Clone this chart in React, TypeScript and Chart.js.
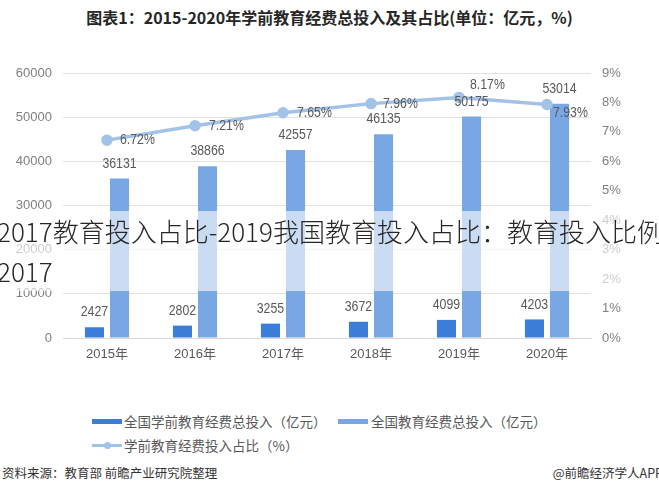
import React, { useEffect, useRef } from "react";
import { Chart, registerables } from "chart.js";

Chart.register(...registerables);

const categories = ["2015年", "2016年", "2017年", "2018年", "2019年", "2020年"];
const preschoolInvestment = [2427, 2802, 3255, 3672, 4099, 4203];
const totalInvestment = [36131, 38866, 42557, 46135, 50175, 53014];
const preschoolShare = [6.72, 7.21, 7.65, 7.96, 8.17, 7.93];
const leftAxis = { min: 0, max: 60000, step: 10000 };
const rightAxis = { min: 0, max: 9, step: 1 };

const seriesNames = [
  "全国学前教育经费总投入（亿元）",
  "全国教育经费总投入（亿元）",
  "学前教育经费投入占比（%）",
];
const titleText = "图表1：2015-2020年学前教育经费总投入及其占比(单位：亿元，%)";
const overlayLines = ["2017教育投入占比-2019我国教育投入占比：教育投入比例", "2017"];
const sourceText = "资料来源：教育部 前瞻产业研究院整理";
const brandText = "@前瞻经济学人APP";

// label placement for the percentage labels (dx, dy from point)
const shareLabelOffsets = [
  [13, 0],
  [14, 0],
  [14, 0],
  [12, 0],
  [11, -12.5],
  [6, 8.5],
];

const COLOR_PRE = "#3b7dd8";
const COLOR_TOTAL = "#78a7e4";
const COLOR_LINE = "#a3c2e7";
const LABEL_COLOR = "#595959";

const valueLabels = {
  id: "valueLabels",
  afterDatasetsDraw(chart: any) {
    const ctx = chart.ctx;
    chart.data.datasets.forEach((ds: any, di: number) => {
      const meta = chart.getDatasetMeta(di);
      meta.data.forEach((el: any, i: number) => {
        const v = ds.data[i];
        let x: number, y: number, align: CanvasTextAlign, text: string;
        if (ds.type === "line") {
          text = v.toFixed(2) + "%";
          x = el.x + shareLabelOffsets[i][0];
          y = el.y + shareLabelOffsets[i][1];
          align = "left";
        } else {
          text = String(v);
          x = el.x;
          y = el.y - 15;
          align = "center";
        }
        ctx.save();
        ctx.translate(x, y);
        ctx.scale(0.82, 1);
        ctx.font = "15px 'Liberation Sans', Arial, sans-serif";
        ctx.fillStyle = LABEL_COLOR;
        ctx.textAlign = align;
        ctx.textBaseline = "middle";
        ctx.fillText(text, 0, 0);
        ctx.restore();
      });
    });
  },
};

function ChartCanvas() {
  const ref = useRef<HTMLCanvasElement | null>(null);
  useEffect(() => {
    if (!ref.current) return;
    const chart = new Chart(ref.current, {
      type: "bar",
      data: {
        labels: categories,
        datasets: [
          {
            type: "line",
            label: seriesNames[2],
            data: preschoolShare,
            yAxisID: "y1",
            borderColor: COLOR_LINE,
            backgroundColor: COLOR_LINE,
            borderWidth: 3.5,
            pointRadius: 4,
            pointBackgroundColor: COLOR_LINE,
            pointBorderColor: COLOR_LINE,
            tension: 0,
            order: 0,
          } as any,
          {
            type: "bar",
            label: seriesNames[0],
            data: preschoolInvestment,
            yAxisID: "y",
            backgroundColor: COLOR_PRE,
            categoryPercentage: 0.57,
            barPercentage: 0.76,
            order: 1,
          },
          {
            type: "bar",
            label: seriesNames[1],
            data: totalInvestment,
            yAxisID: "y",
            backgroundColor: COLOR_TOTAL,
            categoryPercentage: 0.57,
            barPercentage: 0.76,
            order: 1,
          },
        ],
      },
      options: {
        responsive: false,
        animation: false,
        devicePixelRatio: 1,
        layout: { padding: { top: 73, left: 0, right: 0, bottom: 0 } },
        plugins: {
          legend: { display: false },
          tooltip: { enabled: false },
          title: { display: false },
        },
        scales: {
          x: {
            grid: { display: false, drawTicks: false },
            border: { display: true, color: "#d9d9d9" },
            ticks: {
              color: LABEL_COLOR,
              padding: 9,
              font: { size: 13, family: "'Liberation Sans', 'Noto Sans CJK SC', sans-serif" },
            },
            afterFit: (s: any) => {
              s.height = 32;
            },
          },
          y: {
            position: "left",
            min: leftAxis.min,
            max: leftAxis.max,
            grid: { color: "#e2e2e2", drawTicks: false },
            border: { display: false },
            ticks: {
              stepSize: leftAxis.step,
              color: "#7f7f7f",
              padding: 11,
              font: { size: 13, family: "'Liberation Sans', sans-serif" },
              callback: (v: any) => String(v),
            },
            afterFit: (s: any) => {
              s.width = 63;
            },
          },
          y1: {
            position: "right",
            min: rightAxis.min,
            max: rightAxis.max,
            grid: { display: false, drawTicks: false },
            border: { display: false },
            ticks: {
              stepSize: rightAxis.step,
              color: "#7f7f7f",
              padding: 11,
              font: { size: 13, family: "'Liberation Sans', sans-serif" },
              callback: (v: any) => v + "%",
            },
            afterFit: (s: any) => {
              s.width = 68;
            },
          },
        },
      },
      plugins: [valueLabels],
    });
    return () => chart.destroy();
  }, []);
  return (
    <canvas
      ref={ref}
      width={659}
      height={370}
      style={{ position: "absolute", left: 0, top: 0, width: 659, height: 370 }}
    />
  );
}

const legendText: React.CSSProperties = {
  position: "absolute",
  fontSize: 13.5,
  color: "#595959",
  whiteSpace: "nowrap",
  lineHeight: "18px",
  fontFamily: "'Noto Sans CJK SC', sans-serif",
};

export default function App() {
  return (
    <div
      style={{
        position: "fixed",
        left: 0,
        top: 0,
        width: 659,
        height: 490,
        background: "#ffffff",
        overflow: "hidden",
        fontFamily: "'Noto Sans CJK SC', sans-serif",
      }}
    >
      <div
        style={{
          position: "absolute",
          left: 0,
          top: 6,
          width: 659,
          textAlign: "center",
          fontSize: 16,
          fontWeight: 700,
          color: "#262626",
          lineHeight: "22px",
          whiteSpace: "nowrap",
        }}
      >
        {titleText}
      </div>
      <ChartCanvas />
      <div
        style={{
          position: "absolute",
          left: 0,
          top: 211,
          width: 659,
          height: 80,
          background: "rgba(255,255,255,0.6)",
          overflow: "hidden",
        }}
      >
        {overlayLines.map((t, i) => (
          <div
            key={i}
            style={{
              position: "absolute",
              left: -3,
              top: i * 40,
              fontSize: 26,
              fontWeight: 300,
              lineHeight: "40px",
              color: "#262626",
              whiteSpace: "nowrap",
            }}
          >
            {t}
          </div>
        ))}
      </div>
      {/* legend */}
      <div style={{ position: "absolute", left: 92, top: 418.5, width: 30, height: 5, background: COLOR_PRE }} />
      <div style={{ ...legendText, left: 124, top: 412 }}>{seriesNames[0]}</div>
      <div style={{ position: "absolute", left: 338, top: 418.5, width: 30, height: 5, background: COLOR_TOTAL }} />
      <div style={{ ...legendText, left: 371, top: 412 }}>{seriesNames[1]}</div>
      <div style={{ position: "absolute", left: 92, top: 443.5, width: 30, height: 3, background: COLOR_LINE }} />
      <div
        style={{
          position: "absolute",
          left: 103.5,
          top: 441.5,
          width: 7,
          height: 7,
          borderRadius: 4,
          background: COLOR_LINE,
        }}
      />
      <div style={{ ...legendText, left: 124, top: 436 }}>{seriesNames[2]}</div>
      {/* footer */}
      <div
        style={{
          position: "absolute",
          left: 2,
          top: 465,
          fontSize: 12.5,
          lineHeight: "16px",
          color: "#333333",
          whiteSpace: "nowrap",
        }}
      >
        {sourceText}
      </div>
      <div
        style={{
          position: "absolute",
          right: -4,
          top: 465,
          fontSize: 12.5,
          lineHeight: "16px",
          color: "#333333",
          whiteSpace: "nowrap",
        }}
      >
        {brandText}
      </div>
    </div>
  );
}
